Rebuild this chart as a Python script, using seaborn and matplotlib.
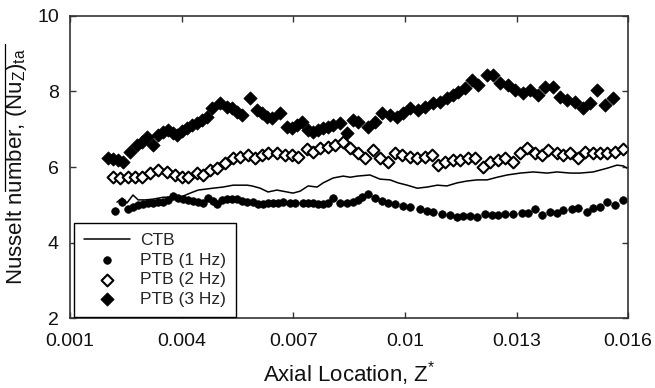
import numpy as np
import pandas as pd
import seaborn as sns
import matplotlib.pyplot as plt
from matplotlib.lines import Line2D

# --- Data ---
ctb_z = [0.00226, 0.00240, 0.00253, 0.00269, 0.00283, 0.00302, 0.00323, 0.00350, 0.00369,
         0.00396, 0.00423, 0.00444, 0.00468, 0.00484, 0.00511, 0.00538, 0.00576, 0.00589,
         0.00611, 0.00632, 0.00656, 0.00683, 0.00699, 0.00718, 0.00740, 0.00764, 0.00780,
         0.00807, 0.00834, 0.00853, 0.00872, 0.00906, 0.00933, 0.00960, 0.00982, 0.01006,
         0.01033, 0.01060, 0.01087, 0.01113, 0.01140, 0.01167, 0.01194, 0.01221, 0.01248,
         0.01275, 0.01310, 0.01345, 0.01382, 0.01409, 0.01444, 0.01471, 0.01506, 0.01544,
         0.01570, 0.01587, 0.01597]
ctb_nu = [5.07, 5.18, 5.05, 5.26, 5.13, 5.13, 5.15, 5.20, 5.20,
          5.20, 5.31, 5.39, 5.42, 5.44, 5.47, 5.52, 5.52, 5.50,
          5.44, 5.34, 5.39, 5.34, 5.31, 5.36, 5.50, 5.47, 5.58,
          5.71, 5.76, 5.73, 5.76, 5.79, 5.68, 5.66, 5.58, 5.52,
          5.44, 5.47, 5.52, 5.50, 5.58, 5.63, 5.66, 5.66, 5.73,
          5.79, 5.84, 5.87, 5.84, 5.87, 5.84, 5.84, 5.87, 5.97,
          6.05, 6.03, 5.97]

ptb1_z = [0.00221, 0.00240, 0.00256, 0.00269, 0.00283, 0.00296, 0.00310, 0.00323, 0.00337,
          0.00350, 0.00363, 0.00377, 0.00390, 0.00404, 0.00417, 0.00431, 0.00444, 0.00458,
          0.00471, 0.00484, 0.00495, 0.00509, 0.00522, 0.00535, 0.00549, 0.00562, 0.00576,
          0.00592, 0.00605, 0.00619, 0.00632, 0.00646, 0.00659, 0.00673, 0.00691, 0.00705,
          0.00726, 0.00740, 0.00753, 0.00767, 0.00780, 0.00794, 0.00807, 0.00826, 0.00845,
          0.00861, 0.00874, 0.00885, 0.00901, 0.00920, 0.00939, 0.00955, 0.00974, 0.00995,
          0.01014, 0.01041, 0.01060, 0.01076, 0.01100, 0.01121, 0.01140, 0.01156, 0.01175,
          0.01194, 0.01216, 0.01234, 0.01251, 0.01269, 0.01291, 0.01315, 0.01331, 0.01350,
          0.01369, 0.01390, 0.01409, 0.01425, 0.01449, 0.01466, 0.01490, 0.01506, 0.01525,
          0.01544, 0.01565, 0.01587]
ptb1_nu = [4.83, 5.07, 4.89, 4.94, 5.00, 5.02, 5.05, 5.05, 5.07,
           5.07, 5.13, 5.23, 5.18, 5.15, 5.13, 5.10, 5.07, 5.05,
           5.18, 5.10, 5.02, 5.13, 5.15, 5.15, 5.15, 5.10, 5.07,
           5.07, 5.02, 5.02, 5.05, 5.05, 5.05, 5.07, 5.05, 5.05,
           5.05, 5.05, 5.05, 5.02, 5.02, 5.05, 5.18, 5.05, 5.05,
           5.07, 5.13, 5.20, 5.28, 5.18, 5.10, 5.05, 5.02, 4.97,
           4.94, 4.89, 4.83, 4.81, 4.75, 4.73, 4.68, 4.71, 4.71,
           4.68, 4.75, 4.73, 4.73, 4.75, 4.75, 4.78, 4.78, 4.89,
           4.73, 4.81, 4.78, 4.86, 4.89, 4.91, 4.81, 4.91, 4.94,
           5.07, 5.00, 5.13]

ptb2_z = [0.00216, 0.00234, 0.00256, 0.00275, 0.00294, 0.00315, 0.00337, 0.00361, 0.00382,
          0.00401, 0.00417, 0.00441, 0.00458, 0.00476, 0.00495, 0.00517, 0.00538, 0.00557,
          0.00578, 0.00597, 0.00616, 0.00632, 0.00656, 0.00678, 0.00697, 0.00713, 0.00737,
          0.00753, 0.00772, 0.00794, 0.00812, 0.00834, 0.00853, 0.00874, 0.00893, 0.00915,
          0.00933, 0.00955, 0.00974, 0.00992, 0.01014, 0.01033, 0.01054, 0.01073, 0.01089,
          0.01108, 0.01130, 0.01148, 0.01170, 0.01189, 0.01210, 0.01229, 0.01251, 0.01269,
          0.01291, 0.01310, 0.01328, 0.01350, 0.01369, 0.01385, 0.01409, 0.01425, 0.01444,
          0.01466, 0.01484, 0.01506, 0.01525, 0.01544, 0.01565, 0.01587]
ptb2_nu = [5.74, 5.71, 5.74, 5.74, 5.74, 5.84, 5.92, 5.87, 5.79,
           5.74, 5.74, 5.84, 5.79, 5.92, 5.97, 6.11, 6.24, 6.27,
           6.32, 6.24, 6.32, 6.37, 6.37, 6.32, 6.32, 6.27, 6.48,
           6.40, 6.50, 6.53, 6.58, 6.66, 6.50, 6.37, 6.24, 6.45,
           6.24, 6.13, 6.37, 6.32, 6.27, 6.24, 6.27, 6.32, 6.05,
           6.13, 6.19, 6.19, 6.24, 6.24, 6.00, 6.13, 6.19, 6.24,
           6.13, 6.37, 6.50, 6.37, 6.32, 6.45, 6.37, 6.32, 6.37,
           6.24, 6.40, 6.37, 6.37, 6.37, 6.40, 6.48]

ptb3_z = [0.00202, 0.00216, 0.00229, 0.00243, 0.00261, 0.00280, 0.00294, 0.00307, 0.00323,
          0.00337, 0.00350, 0.00363, 0.00377, 0.00388, 0.00401, 0.00415, 0.00428, 0.00441,
          0.00455, 0.00468, 0.00482, 0.00503, 0.00522, 0.00536, 0.00549, 0.00562, 0.00584,
          0.00603, 0.00616, 0.00630, 0.00643, 0.00665, 0.00683, 0.00697, 0.00710, 0.00724,
          0.00740, 0.00753, 0.00767, 0.00780, 0.00794, 0.00807, 0.00826, 0.00845, 0.00861,
          0.00874, 0.00901, 0.00920, 0.00939, 0.00960, 0.00979, 0.00995, 0.01014, 0.01036,
          0.01054, 0.01076, 0.01095, 0.01113, 0.01130, 0.01143, 0.01162, 0.01181, 0.01197,
          0.01221, 0.01237, 0.01256, 0.01277, 0.01296, 0.01318, 0.01337, 0.01358, 0.01377,
          0.01398, 0.01417, 0.01436, 0.01458, 0.01479, 0.01498, 0.01517, 0.01538, 0.01560]
ptb3_nu = [6.25, 6.21, 6.19, 6.13, 6.40, 6.58, 6.66, 6.79, 6.58,
           6.85, 6.93, 6.98, 6.90, 6.85, 6.95, 7.03, 7.11, 7.17,
           7.25, 7.33, 7.56, 7.69, 7.59, 7.56, 7.46, 7.38, 7.83,
           7.51, 7.43, 7.33, 7.30, 7.43, 7.06, 7.03, 7.11, 7.19,
           6.98, 6.93, 6.98, 7.03, 7.06, 7.11, 7.17, 6.90, 7.25,
           7.19, 7.06, 7.19, 7.43, 7.38, 7.33, 7.43, 7.56, 7.51,
           7.59, 7.69, 7.72, 7.83, 7.91, 7.99, 8.09, 8.30, 8.17,
           8.44, 8.44, 8.22, 8.17, 8.04, 7.96, 8.04, 7.91, 8.12,
           8.12, 7.85, 7.77, 7.72, 7.56, 7.69, 8.04, 7.64, 7.83]

x_ticks = [0.001, 0.004, 0.007, 0.01, 0.013, 0.016]
x_tick_labels = ['0.001', '0.004', '0.007', '0.01', '0.013', '0.016']
y_ticks = [2, 4, 6, 8, 10]

# --- Style ---
sns.set_style('ticks')
plt.rcParams['font.family'] = ['Liberation Sans', 'DejaVu Sans']
plt.rcParams['mathtext.fontset'] = 'custom'
plt.rcParams['mathtext.rm'] = 'Liberation Sans'
plt.rcParams['mathtext.it'] = 'Liberation Sans:italic'

fig = plt.figure(figsize=(6.55, 3.88), dpi=100)
ax = fig.add_axes([0.107, 0.180, 0.852, 0.779])

sns.lineplot(x=ctb_z, y=ctb_nu, color='black', lw=1.1, estimator=None, sort=False,
             label='CTB', ax=ax)
sns.scatterplot(x=ptb1_z, y=ptb1_nu, marker='o', s=30, color='black', edgecolor='black',
                linewidth=0.5, label='PTB (1 Hz)', ax=ax)
sns.scatterplot(x=ptb2_z, y=ptb2_nu, marker='D', s=36, facecolor='white', edgecolor='black',
                linewidth=1.5, label='PTB (2 Hz)', ax=ax)
sns.scatterplot(x=ptb3_z, y=ptb3_nu, marker='D', s=46, color='black', edgecolor='black',
                linewidth=0.5, label='PTB (3 Hz)', ax=ax)

ax.set_xlim(0.001, 0.016)
ax.set_ylim(2, 10)
ax.set_xticks(x_ticks, x_tick_labels)
ax.set_yticks(y_ticks)

for sp in ax.spines.values():
    sp.set_visible(True)
    sp.set_color('#333333')
    sp.set_linewidth(1.2)

ax.tick_params(direction='in', length=4, width=1, color='#333333',
               top=True, right=True, labelsize=14, labelcolor='#111111')
ax.tick_params(axis='x', pad=11)
ax.tick_params(axis='y', pad=8)

ax.set_xlabel(r'Axial Location, Z$\mathregular{^{*}}$', fontsize=16, labelpad=6, color='#111111')
ax.set_ylabel(r'Nusselt number, $\mathregular{(Nu_Z)_{ta}}$', fontsize=16, color='#111111')
ax.yaxis.set_label_coords(-0.074, 0.5)

leg = ax.legend(loc='lower left', bbox_to_anchor=(0.007, 0.003), borderaxespad=0,
                frameon=True, fancybox=False, edgecolor='black', framealpha=1,
                fontsize=12.5, handlelength=2.6, handletextpad=0.6, labelspacing=0.25,
                borderpad=0.6)
leg.get_frame().set_linewidth(1.0)

# overline drawn over part of the y label, as in the original
fig.canvas.draw()
bb = ax.yaxis.label.get_window_extent()
inv = fig.transFigure.inverted()
p_top = inv.transform((bb.x0 + 1, bb.y1 + 0.02 * bb.height))
p_bot = inv.transform((bb.x0 + 1, bb.y1 - 0.6 * bb.height))
fig.add_artist(Line2D([p_top[0], p_bot[0]], [p_top[1], p_bot[1]], color='black', lw=0.9))

fig.savefig('out.png', dpi=100)
